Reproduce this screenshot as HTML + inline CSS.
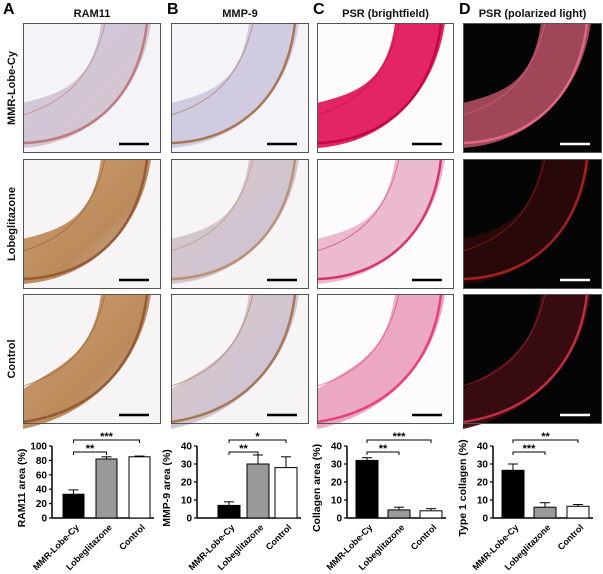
<!DOCTYPE html>
<html><head><meta charset="utf-8"><style>
body{margin:0;background:#fff;}
svg{display:block;font-family:"Liberation Sans",Arial,sans-serif;}
</style></head><body>
<svg id="fig" width="603" height="574" viewBox="0 0 603 574">
<defs>
<linearGradient id="gA" x1="0" y1="0" x2="1" y2="1"><stop offset="0" stop-color="#c9c6e3"/><stop offset="1" stop-color="#d8c2c2"/></linearGradient>
<linearGradient id="gBr" x1="0" y1="0" x2="1" y2="1"><stop offset="0" stop-color="#c89a6e"/><stop offset="0.6" stop-color="#b98552"/><stop offset="1" stop-color="#c9c3dd"/></linearGradient>
<linearGradient id="gBr2" x1="0" y1="0" x2="1" y2="1"><stop offset="0" stop-color="#d8c6c0"/><stop offset="1" stop-color="#c7bfdc"/></linearGradient>
</defs>
<g id="panels"></g>
<g id="charts"></g>
</svg>
<script>
// ---- chart data ----
const categories = ["MMR-Lobe-Cy","Lobeglitazone","Control"];
const ramValues = [33, 82, 85];
const ramErrors = [6, 3, 1];
const mmpValues = [7, 30, 28];
const mmpErrors = [2, 5, 6];
const colValues = [32, 4.5, 4];
const colErrors = [1.5, 1.5, 1.2];
const t1Values = [26.5, 6, 6.5];
const t1Errors = [3.5, 2.5, 1];
const ramTicks = [0,20,40,60,80,100];
const pctTicks = [0,10,20,30,40];
const ramSig = ["**","***"];
const mmpSig = ["**","*"];
const colSig = ["**","***"];
const t1Sig = ["***","**"];

const NS="http://www.w3.org/2000/svg";
function mk(tag, attrs, parent){const e=document.createElementNS(NS,tag);for(const k in attrs)e.setAttribute(k,attrs[k]);parent.appendChild(e);return e;}

// ---- histology panels ----
const P=document.getElementById('panels');
const colX=[23,171,317,463], colW=[138,138,137,139];
const rowY=[23,159,294], rowH=130;
const letterX=[3,167,313,459];
const band="M0,{a} C40,{b} 70,60 78,0 L{c},0 C{d},70 70,{e} 0,{f} Z";
const styles=[
 [{bg:"#f4f3f8",f:"url(#gA)",ac:"#b9676a"},{bg:"#f6f4f5",f:"url(#gBr)",ac:"#8a4f2a"},{bg:"#f6f4f5",f:"url(#gBr)",ac:"#8a4f2a"}],
 [{bg:"#f4f3f8",f:"#cfc8e0",ac:"#a0622f"},{bg:"#f6f4f5",f:"url(#gBr2)",ac:"#b5855a"},{bg:"#f6f4f5",f:"url(#gBr2)",ac:"#9a6434"}],
 [{bg:"#fdfbfc",f:"#e3195d",ac:"#b80040"},{bg:"#fdfbfc",f:"#eab6cc",ac:"#d01457"},{bg:"#fdfbfc",f:"#eba2c0",ac:"#e02a6a"}],
 [{bg:"#050505",f:"#a84a5e",ac:"#f07090"},{bg:"#050505",f:"#2a0808",ac:"#c02828"},{bg:"#050505",f:"#3a0c10",ac:"#e03850"}]
];
const titles=["RAM11","MMP-9","PSR (brightfield)","PSR (polarized light)"];
const letters=["A","B","C","D"];
for(let c=0;c<4;c++){
  const t=mk('text',{x:colX[c]+colW[c]/2,y:17,'text-anchor':'middle','font-size':11,'font-weight':'bold',fill:'#111'},P);
  t.textContent=titles[c];
  
  
  const l=mk('text',{x:letterX[c],y:14,'font-size':16,'font-weight':'bold',fill:'#000'},P);
  l.textContent=letters[c];
  
  
  for(let r=0;r<3;r++){
    const s=styles[c][r], x=colX[c], y=rowY[r], w=colW[c];
    const g=mk('g',{transform:`translate(${x},${y})`},P);
    
    
    mk('rect',{x:0,y:0,width:w,height:rowH,fill:s.bg},g);
    const d=band.replace('{a}',r==2?95:80).replace('{b}',70).replace('{c}',128).replace('{d}',118).replace('{e}',120).replace('{f}',r==2?135:125);
    mk('path',{d:d,fill:s.f,opacity:0.95},g);
    mk('path',{d:`M0,${r==2?128:120} C70,118 116,72 124,0`,fill:'none',stroke:s.ac,'stroke-width':2.5,opacity:0.8},g);
    mk('path',{d:`M0,92 C40,80 70,55 82,0`,fill:'none',stroke:s.ac,'stroke-width':1,opacity:0.5},g);
    mk('rect',{x:0.5,y:0.5,width:w-1,height:rowH-1,fill:'none',stroke:'#555','stroke-width':1},g);
    mk('line',{x1:w-42,x2:w-12,y1:rowH-9,y2:rowH-9,stroke:c==3?'#fff':'#000','stroke-width':2.5},g);
  }
}
const rowLabels=["MMR-Lobe-Cy","Lobeglitazone","Control"];
for(let r=0;r<3;r++){
  const cy=rowY[r]+rowH/2;
  const t=mk('text',{x:0,y:0,transform:`translate(15,${cy}) rotate(-90)`,'text-anchor':'middle','font-size':11,'font-weight':'bold',fill:'#111'},P);
  t.textContent=rowLabels[r];
  
  
}

// ---- bar charts ----
const C=document.getElementById('charts');
const charts=[
 {ax:52, max:100, ticks:ramTicks, vals:ramValues, errs:ramErrors, sig:ramSig, bars:[63,96,129], bw:21, label:"RAM11 area (%)", name:"ram11"},
 {ax:197, max:40, ticks:pctTicks, vals:mmpValues, errs:mmpErrors, sig:mmpSig, bars:[218,247,275], bw:22, label:"MMP-9 area (%)", name:"mmp9"},
 {ax:347, max:40, ticks:pctTicks, vals:colValues, errs:colErrors, sig:colSig, bars:[356,388,420], bw:22, label:"Collagen area (%)", name:"collagen"},
 {ax:493, max:40, ticks:pctTicks, vals:t1Values, errs:t1Errors, sig:t1Sig, bars:[502,534,567], bw:22, label:"Type 1 collagen (%)", name:"type1"}
];
const fills=["#000","#999","#fff"];
const y0=518, yTop=446;
charts.forEach(ch=>{
  const g=mk('g',{},C);
  
  
  const yS=v=>y0-(v/ch.max)*(y0-yTop);
  const right=ch.bars[2]+ch.bw+4;
  mk('line',{x1:ch.ax,x2:ch.ax,y1:yTop,y2:y0,stroke:'#000','stroke-width':1.5},g);
  mk('line',{x1:ch.ax,x2:right,y1:y0,y2:y0,stroke:'#000','stroke-width':1.5},g);
  ch.ticks.forEach(tv=>{
    const y=yS(tv);
    mk('line',{x1:ch.ax-3,x2:ch.ax,y1:y,y2:y,stroke:'#000','stroke-width':1.2},g);
    const t=mk('text',{x:ch.ax-5,y:y+3.5,'text-anchor':'end','font-size':10,'font-weight':'bold'},g);
    t.textContent=tv;
    
    
  });
  const yl=mk('text',{transform:`translate(${ch.ax-27},${(y0+yTop)/2+6}) rotate(-90)`,'text-anchor':'middle','font-size':10.5,'font-weight':'bold'},g);
  yl.textContent=ch.label;
  
  
  ch.vals.forEach((v,i)=>{
    const x=ch.bars[i], cx=x+ch.bw/2, yt=yS(v), ye=yS(v+ch.errs[i]);
    mk('line',{x1:cx,x2:cx,y1:yt,y2:ye,stroke:'#000','stroke-width':1},g);
    mk('line',{x1:cx-5,x2:cx+5,y1:ye,y2:ye,stroke:'#000','stroke-width':1},g);
    const b=mk('rect',{x:x,y:yt,width:ch.bw,height:y0-yt,fill:fills[i],stroke:'#000','stroke-width':1},g);
    
    
    const lt=mk('text',{transform:`translate(${cx+6},${y0+10}) rotate(-45)`,'text-anchor':'end','font-size':9,'font-weight':'bold'},g);
    lt.textContent=categories[i];
    
    
  });
  const c0=ch.bars[0]+ch.bw/2;
  [[1,yTop+6],[2,yTop-6]].forEach(([j,by],k)=>{
    const cj=ch.bars[j]+ch.bw/2;
    mk('path',{d:`M${c0},${by+3} L${c0},${by} L${cj},${by} L${cj},${by+3}`,fill:'none',stroke:'#000','stroke-width':1},g);
    const st=mk('text',{x:(c0+cj)/2,y:by,'text-anchor':'middle','font-size':11,'font-weight':'bold'},g);
    st.textContent=ch.sig[k];
    
    
  });
});
</script>
</body></html>
